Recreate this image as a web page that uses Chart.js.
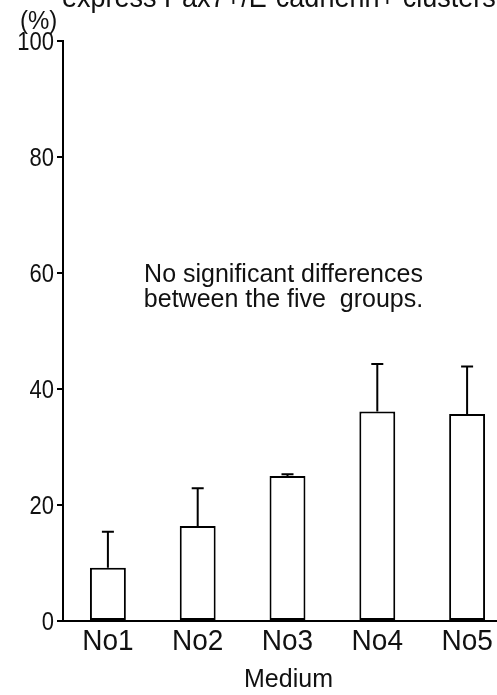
<!DOCTYPE html>
<html>
<head>
<meta charset="utf-8">
<script src="https://cdn.jsdelivr.net/npm/chart.js@4/dist/chart.umd.min.js"></script>
<style>
  html, body { margin: 0; padding: 0; background: #fff; overflow: hidden; }
  #wrap { width: 520px; height: 695px; }
</style>
</head>
<body>
<div id="wrap"><canvas id="chart1" width="520" height="695"></canvas></div>
<script>
const groups = ["No1", "No2", "No3", "No4", "No5"];
const means = [9.2, 16.4, 25.0, 36.1, 35.7];
const errors = [6.2, 6.5, 0.3, 8.2, 8.2];
const yTicks = [0, 20, 40, 60, 80, 100];
const note = ["No significant differences", "between the five  groups."];

const FONT = "'Liberation Sans', Arial, sans-serif";

// text in the figure is a bit taller than plain Arial
function stretchText(ctx, str, x, y, size, sy) {
  ctx.save();
  ctx.font = size + "px " + FONT;
  ctx.translate(x, y);
  ctx.scale(1, sy);
  ctx.fillText(str, 0, 0);
  ctx.restore();
}

const errorBars = {
  id: "errorBars",
  afterDatasetsDraw(chart) {
    const { ctx, scales: { y } } = chart;
    const meta = chart.getDatasetMeta(0);
    ctx.save();
    ctx.strokeStyle = "#000";
    ctx.lineWidth = 2;
    meta.data.forEach((bar, i) => {
      const top = y.getPixelForValue(means[i] + errors[i]);
      ctx.beginPath();
      ctx.moveTo(bar.x, bar.y);
      ctx.lineTo(bar.x, top);
      ctx.moveTo(bar.x - 6, top);
      ctx.lineTo(bar.x + 6, top);
      ctx.stroke();
    });
    ctx.restore();
  }
};

const labels = {
  id: "labels",
  afterDraw(chart) {
    const { ctx, scales: { x, y } } = chart;
    ctx.save();
    ctx.fillStyle = "#111";
    ctx.textAlign = "left";
    ctx.textBaseline = "alphabetic";
    stretchText(ctx, "express Pax7+/E-cadherin+ clusters", 62, 7, 27, 1.08);
    ctx.textBaseline = "middle";
    stretchText(ctx, "(%)", 20, 22, 24, 1.1);

    ctx.textAlign = "right";
    yTicks.forEach(v => stretchText(ctx, String(v), 54, y.getPixelForValue(v) + 2, 22, 1.13));

    ctx.textAlign = "center";
    groups.forEach((g, i) => stretchText(ctx, g, x.getPixelForValue(i), 642, 28, 1.08));
    stretchText(ctx, "Medium", (x.left + x.right) / 2 + 1, 680, 25, 1.02);

    const cx = x.getPixelForValue(2);
    stretchText(ctx, note[0], cx - 4, y.getPixelForValue(59.7), 25, 1.0);
    stretchText(ctx, note[1], cx - 4, y.getPixelForValue(55.3), 25, 1.0);
    ctx.restore();
  }
};

new Chart(document.getElementById("chart1"), {
  type: "bar",
  data: {
    labels: groups,
    datasets: [{
      data: means,
      backgroundColor: "#fff",
      borderColor: "#000",
      borderWidth: 2,
      borderSkipped: false,
      barPercentage: 0.4,
      categoryPercentage: 1
    }]
  },
  options: {
    responsive: false,
    animation: false,
    layout: { padding: { top: 41, right: 8, left: 0, bottom: 0 } },
    plugins: { legend: { display: false }, tooltip: { enabled: false } },
    scales: {
      x: {
        afterFit: s => { s.height = 74; },
        grid: { display: false },
        border: { display: true, color: "#000", width: 2 },
        ticks: { color: "rgba(0,0,0,0)" }
      },
      y: {
        min: 0,
        max: 100,
        afterFit: s => { s.width = 63; },
        afterBuildTicks: s => { s.ticks = yTicks.map(v => ({ value: v })); },
        grid: { drawOnChartArea: false, drawTicks: true, tickLength: 6, color: "#000", lineWidth: 2 },
        border: { display: true, color: "#000", width: 2 },
        ticks: { color: "rgba(0,0,0,0)" }
      }
    }
  },
  plugins: [errorBars, labels]
});
</script>
</body>
</html>
